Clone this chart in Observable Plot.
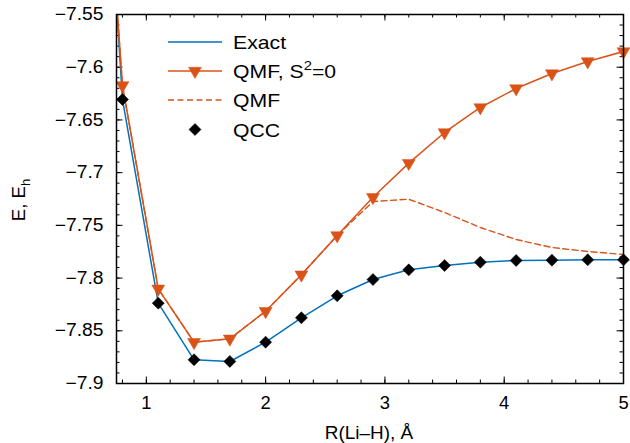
<!DOCTYPE html>
<html>
<head>
<meta charset="utf-8">
<script src="https://cdn.jsdelivr.net/npm/d3@7"></script>
<script src="https://cdn.jsdelivr.net/npm/@observablehq/plot@0.6"></script>
<style>
  body { margin: 0; background: #fff; }
  svg { font-family: "Liberation Sans", Arial, sans-serif; }
</style>
</head>
<body>
<div id="chart"></div>
<script>
// ---- data ----
const rGrid = [0.8, 1.1, 1.4, 1.7, 2.0, 2.3, 2.6, 2.9, 3.2, 3.5, 3.8, 4.1, 4.4, 4.7, 5.0];
// Exact curve has one extra short-distance point (clipped at the top of the frame)
const exactR = [0.7, 0.8, 1.1, 1.4, 1.7, 2.0, 2.3, 2.6, 2.9, 3.2, 3.5, 3.8, 4.1, 4.4, 4.7, 5.0];
const exactE = [-7.449, -7.6306, -7.8238, -7.8775, -7.8791, -7.8608, -7.8377, -7.8168, -7.8014, -7.7922, -7.7881, -7.7849, -7.7833, -7.7830, -7.7827, -7.7827];
const qmfS0R = [0.7, 0.8, 1.1, 1.4, 1.7, 2.0, 2.3, 2.6, 2.9, 3.2, 3.5, 3.8, 4.1, 4.4, 4.7, 5.0];
const qmfS0E = [-7.456, -7.6173, -7.8102, -7.8608, -7.8576, -7.8314, -7.7968, -7.7596, -7.7233, -7.6910, -7.6619, -7.6382, -7.6202, -7.6060, -7.5946, -7.5851];
const qmfR = [0.7, 0.8, 1.1, 1.4, 1.7, 2.0, 2.3, 2.6, 2.9, 3.2, 3.5, 3.8, 4.1, 4.4, 4.7, 5.0];
const qmfE = [-7.456, -7.6173, -7.8102, -7.8608, -7.8576, -7.8314, -7.7968, -7.7596, -7.7274, -7.7252, -7.7378, -7.7520, -7.7634, -7.7710, -7.7748, -7.7776];
const qccE = [-7.6306, -7.8238, -7.8775, -7.8791, -7.8608, -7.8377, -7.8168, -7.8014, -7.7922, -7.7881, -7.7849, -7.7833, -7.7830, -7.7827, -7.7827];

const xTicks = [1, 2, 3, 4, 5];
const yTicks = [-7.9, -7.85, -7.8, -7.75, -7.7, -7.65, -7.6, -7.55];
const seriesNames = ["Exact", "QMF, S\u00B2=0", "QMF", "QCC"];
const xLabel = "R(Li\u2013H), \u00C5";

// ---- derived tables ----
const exact = exactR.map((r, i) => ({r, e: exactE[i]}));
const qmfS0 = qmfS0R.map((r, i) => ({r, e: qmfS0E[i]}));
const qmfS0Markers = qmfS0.filter(d => d.r >= 0.8);
const qmf = qmfR.map((r, i) => ({r, e: qmfE[i]}));
const qcc = rGrid.map((r, i) => ({r, e: qccE[i]}));

const xMinor = d3.range(8, 51, 2).map(v => v / 10);
const yMinor = d3.range(-790, -754, 1).map(v => v / 100);

const BLUE = "#0072BD", ORANGE = "#D95319";
const W = 630, H = 443, mL = 116, mR = 7, mT = 14, mB = 60;
const innerH = H - mT - mB, innerW = W - mL - mR;
const minus = d => String(d).replace("-", "\u2212");

const plot = Plot.plot({
  width: W, height: H,
  marginLeft: mL, marginRight: mR, marginTop: mT, marginBottom: mB,
  style: {fontFamily: "Liberation Sans, Arial, sans-serif", fontSize: "18px", color: "#000", background: "#fff"},
  x: {domain: [0.75, 5]},
  y: {domain: [-7.9, -7.55]},
  marks: [
    // tick marks (inward, mirrored)
    Plot.tickX(xMinor, {x: d => d, insetTop: innerH - 3.5, stroke: "#000", strokeWidth: 1}),
    Plot.tickX(xMinor, {x: d => d, insetBottom: innerH - 3.5, stroke: "#000", strokeWidth: 1}),
    Plot.tickX(xTicks, {x: d => d, insetTop: innerH - 6.5, stroke: "#000", strokeWidth: 1}),
    Plot.tickX(xTicks, {x: d => d, insetBottom: innerH - 6.5, stroke: "#000", strokeWidth: 1}),
    Plot.tickY(yMinor, {y: d => d, insetRight: innerW - 3.5, stroke: "#000", strokeWidth: 1}),
    Plot.tickY(yMinor, {y: d => d, insetLeft: innerW - 3.5, stroke: "#000", strokeWidth: 1}),
    Plot.tickY(yTicks, {y: d => d, insetRight: innerW - 6.5, stroke: "#000", strokeWidth: 1}),
    Plot.tickY(yTicks, {y: d => d, insetLeft: innerW - 6.5, stroke: "#000", strokeWidth: 1}),
    Plot.axisX({ticks: xTicks, tickSize: 0, tickPadding: 13, fontSize: 17.5, label: null, tickFormat: d => String(d)}),
    Plot.axisY({ticks: yTicks, tickSize: 0, tickPadding: 13, fontSize: 17.5, label: null, tickFormat: minus}),
    // data
    Plot.line(exact, {x: "r", y: "e", stroke: BLUE, strokeWidth: 1.5, clip: true}),
    Plot.line(qmf, {x: "r", y: "e", stroke: ORANGE, strokeWidth: 1.4, strokeDasharray: "6,3.5", clip: true}),
    Plot.line(qmfS0, {x: "r", y: "e", stroke: ORANGE, strokeWidth: 1.5, clip: true}),
    Plot.dot(qmfS0Markers, {x: "r", y: "e", symbol: "triangle", rotate: 180, r: 4.8, fill: ORANGE, stroke: ORANGE, strokeWidth: 0.5}),
    Plot.dot(qcc, {x: "r", y: "e", symbol: "square", rotate: 45, r: 4.8, fill: "#000", stroke: "#000", strokeWidth: 0.5}),
    Plot.frame({stroke: "#000", strokeWidth: 1.5})
  ]
});
document.getElementById("chart").appendChild(plot);

const svg = d3.select(plot);
const ff = "Liberation Sans, Arial, sans-serif";

// widen glyphs horizontally (reference text is rendered slightly wider)
function stretch(sel, factor) {
  sel.each(function () {
    const w = this.getComputedTextLength();
    if (w > 0) {
      this.setAttribute("textLength", (w * factor).toFixed(2));
      this.setAttribute("lengthAdjust", "spacingAndGlyphs");
    }
  });
}

// tick labels: enforce size, then widen
const tickTexts = svg.selectAll('g[aria-label="x-axis tick label"] text, g[aria-label="y-axis tick label"] text')
  .style("font-size", "17.5px").style("font-family", ff);
stretch(svg.selectAll('g[aria-label="y-axis tick label"] text'), 1.1);
stretch(svg.selectAll('g[aria-label="x-axis tick label"] text'), 1.05);

// ---- axis titles ----
const xl = svg.append("text")
  .attr("x", 369).attr("y", 439)
  .attr("text-anchor", "middle").attr("fill", "#000")
  .style("font-family", ff).style("font-size", "18.6px")
  .text(xLabel);
stretch(xl, 1.02);

const yl = svg.append("text")
  .attr("transform", "translate(25,200) rotate(-90)")
  .attr("text-anchor", "middle").attr("fill", "#000")
  .style("font-family", ff).style("font-size", "18.6px");
yl.append("tspan").text("E, E");
yl.append("tspan").style("font-size", "13px").attr("dy", 5).text("h");

// ---- legend ----
const lg = svg.append("g").attr("fill", "#000");
const rowY = [42, 71, 100, 129.5];
const x0 = 168, x1 = 222, xm = 195, xt = 233;
// Exact
lg.append("line").attr("x1", x0).attr("x2", x1).attr("y1", rowY[0]).attr("y2", rowY[0]).attr("stroke", BLUE).attr("stroke-width", 1.5);
// QMF, S2=0
lg.append("line").attr("x1", x0).attr("x2", x1).attr("y1", rowY[1]).attr("y2", rowY[1]).attr("stroke", ORANGE).attr("stroke-width", 1.5);
lg.append("path").attr("d", d3.symbol(d3.symbolTriangle, Math.PI * 4.8 * 4.8)())
  .attr("transform", `translate(${xm},${rowY[1]}) rotate(180)`).attr("fill", ORANGE).attr("stroke", ORANGE).attr("stroke-width", 0.5);
// QMF
lg.append("line").attr("x1", x0).attr("x2", x1).attr("y1", rowY[2]).attr("y2", rowY[2]).attr("stroke", ORANGE).attr("stroke-width", 1.4).attr("stroke-dasharray", "6,3.5");
// QCC
lg.append("path").attr("d", d3.symbol(d3.symbolSquare, Math.PI * 4.8 * 4.8)())
  .attr("transform", `translate(${xm},${rowY[3]}) rotate(45)`).attr("fill", "#000").attr("stroke", "#000").attr("stroke-width", 0.5);

seriesNames.forEach((name, i) => {
  const t = lg.append("text").attr("x", xt).attr("y", rowY[i] + 7)
    .attr("text-anchor", "start").attr("fill", "#000")
    .style("font-family", ff).style("font-size", "18.6px");
  if (name.includes("\u00B2")) {
    t.append("tspan").text("QMF, S");
    t.append("tspan").style("font-size", "13px").attr("dy", -8.5).text("2");
    t.append("tspan").attr("dy", 8.5).text("=0");
  } else {
    t.text(name);
  }
  stretch(t, 1.14);
});
</script>
</body>
</html>
